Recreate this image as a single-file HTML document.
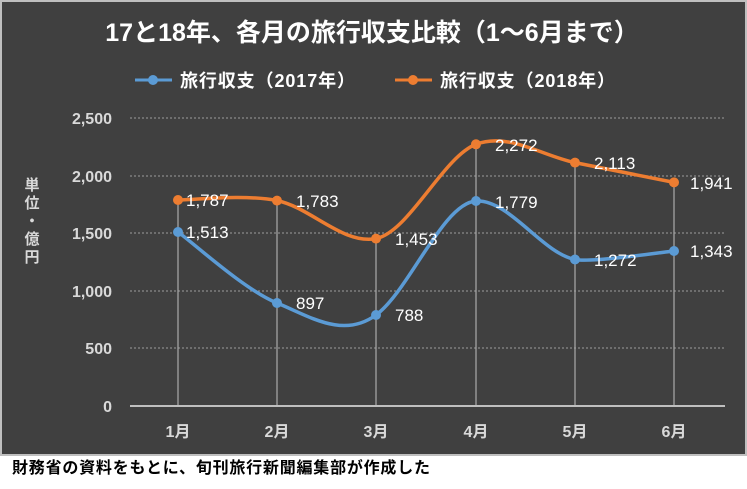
<!DOCTYPE html>
<html><head><meta charset="utf-8"><style>
html,body{margin:0;padding:0;background:#fff;width:747px;height:489px;overflow:hidden}
svg{display:block}
text{font-family:"Liberation Sans","Noto Sans CJK JP",sans-serif}
</style></head><body>
<svg width="747" height="489" viewBox="0 0 747 489" xmlns="http://www.w3.org/2000/svg">
<rect x="1" y="1" width="745" height="454" fill="#404040" stroke="#bfbfbf" stroke-width="2"/>
<text x="372" y="41" text-anchor="middle" fill="#fff" font-size="25" font-weight="bold">17と18年、各月の旅行収支比較（1～6月まで）</text>
<line x1="135" y1="80" x2="172" y2="80" stroke="#5b9bd5" stroke-width="3"/><circle cx="153" cy="80" r="5" fill="#5b9bd5"/>
<text x="180" y="87" fill="#fff" font-size="18" font-weight="bold" textLength="175">旅行収支（2017年）</text>
<line x1="395" y1="80" x2="432" y2="80" stroke="#ed7d31" stroke-width="3"/><circle cx="413" cy="80" r="5" fill="#ed7d31"/>
<text x="440" y="87" fill="#fff" font-size="18" font-weight="bold" textLength="175">旅行収支（2018年）</text>
<g stroke="#8a8a8a" stroke-width="1.2" stroke-dasharray="2,2">
<line x1="130" y1="118" x2="725" y2="118"/><line x1="130" y1="176" x2="725" y2="176"/><line x1="130" y1="233" x2="725" y2="233"/><line x1="130" y1="291" x2="725" y2="291"/><line x1="130" y1="348" x2="725" y2="348"/>
</g>
<g stroke="#aaa" stroke-width="1.2">
<line x1="178" y1="200" x2="178" y2="406"/><line x1="277" y1="200" x2="277" y2="406"/><line x1="376" y1="238" x2="376" y2="406"/><line x1="476" y1="144" x2="476" y2="406"/><line x1="575" y1="162" x2="575" y2="406"/><line x1="674" y1="182" x2="674" y2="406"/>
</g>
<line x1="130" y1="406" x2="725" y2="406" stroke="#bfbfbf" stroke-width="2"/>
<g fill="#d9d9d9" font-size="16" font-weight="bold" text-anchor="end">
<text x="112" y="124">2,500</text><text x="112" y="182">2,000</text><text x="112" y="239">1,500</text><text x="112" y="297">1,000</text><text x="112" y="354">500</text><text x="112" y="412">0</text>
</g>
<g fill="#d9d9d9" font-size="16" font-weight="bold" text-anchor="middle">
<text x="178" y="437">1月</text><text x="277" y="437">2月</text><text x="376" y="437">3月</text><text x="476" y="437">4月</text><text x="575" y="437">5月</text><text x="674" y="437">6月</text>
</g>
<g fill="#d9d9d9" font-size="15" font-weight="bold" text-anchor="middle">
<text x="32" y="190">単</text><text x="32" y="208">位</text><text x="32" y="226">・</text><text x="32" y="244">億</text><text x="32" y="262">円</text>
</g>
<path d="M178,232 C194.5,243.8 244,289.5 277,303 C310,316.5 343,339 376,315 C409,291 443,203 476,201 C509,199 542,253 575,259.5 C591.5,262.8 657.5,252.7 674,251" fill="none" stroke="#5b9bd5" stroke-width="3.5"/>
<path d="M178,200 C194.5,200 244,194 277,200.6 C310,207 343,245 376,238.6 C409,232 443,157 476,144.3 C509,132 542,156 575,162.6 C591.5,166 657.5,179 674,182.4" fill="none" stroke="#ed7d31" stroke-width="3.5"/>
<g fill="#5b9bd5"><circle cx="178" cy="232" r="5"/><circle cx="277" cy="303" r="5"/><circle cx="376" cy="315" r="5"/><circle cx="476" cy="201" r="5"/><circle cx="575" cy="259.5" r="5"/><circle cx="674" cy="251" r="5"/></g>
<g fill="#ed7d31"><circle cx="178" cy="200" r="5"/><circle cx="277" cy="200.6" r="5"/><circle cx="376" cy="238.6" r="5"/><circle cx="476" cy="144.3" r="5"/><circle cx="575" cy="162.6" r="5"/><circle cx="674" cy="182.4" r="5"/></g>
<g fill="#fff" font-size="17">
<text x="186" y="238">1,513</text><text x="296" y="309">897</text><text x="395" y="321">788</text><text x="495" y="208">1,779</text><text x="594" y="266">1,272</text><text x="690" y="257">1,343</text>
<text x="186" y="206">1,787</text><text x="296" y="207">1,783</text><text x="395" y="245">1,453</text><text x="495" y="151">2,272</text><text x="594" y="169">2,113</text><text x="690" y="189">1,941</text>
</g>
<text x="12" y="473" fill="#000" font-size="16" font-weight="bold" textLength="418">財務省の資料をもとに、旬刊旅行新聞編集部が作成した</text>
</svg>
</body></html>
